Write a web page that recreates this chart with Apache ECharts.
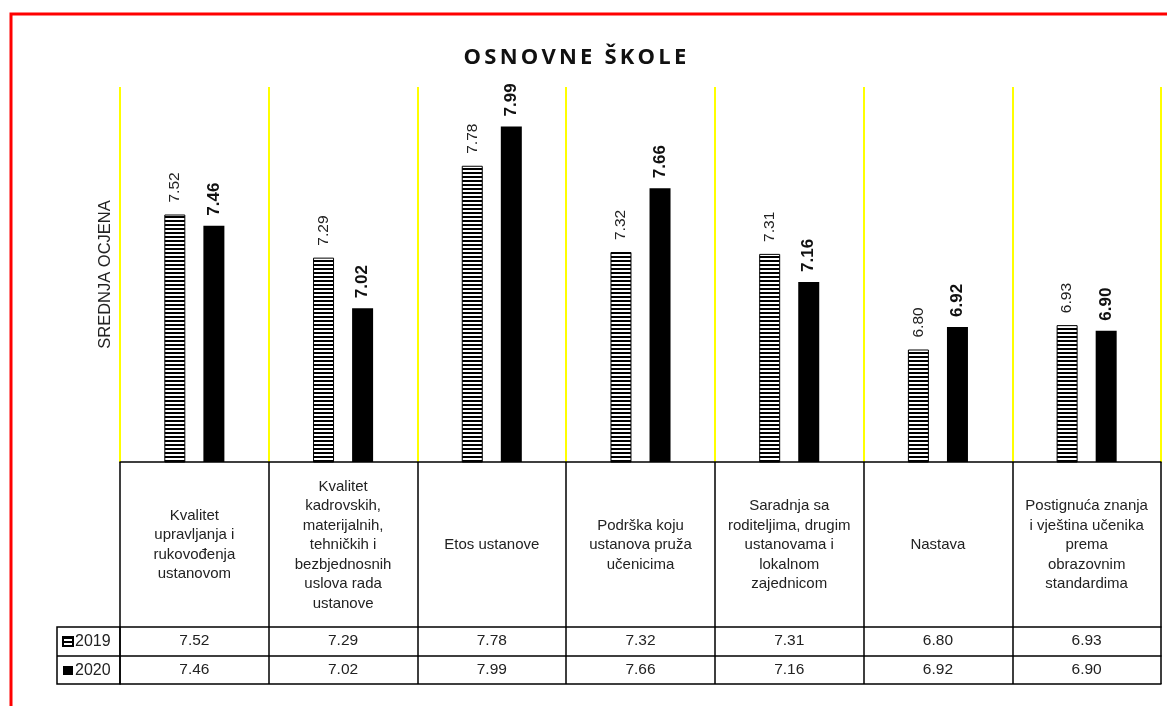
<!DOCTYPE html>
<html>
<head>
<meta charset="utf-8">
<script src="https://cdn.jsdelivr.net/npm/echarts@6/dist/echarts.min.js"></script>
<style>
html,body{margin:0;padding:0;background:#fff;}
#chart{width:1167px;height:706px;}
</style>
</head>
<body>
<div id="chart"></div>
<script>
const categories = [
  "Kvalitet\nupravljanja i\nrukovođenja\nustanovom",
  "Kvalitet\nkadrovskih,\nmaterijalnih,\ntehničkih i\nbezbjednosnih\nuslova rada\nustanove",
  "Etos ustanove",
  "Podrška koju\nustanova pruža\nučenicima",
  "Saradnja sa\nroditeljima, drugim\nustanovama i\nlokalnom\nzajednicom",
  "Nastava",
  "Postignuća znanja\ni vještina učenika\nprema\nobrazovnim\nstandardima"
];
const values2019 = [7.52, 7.29, 7.78, 7.32, 7.31, 6.80, 6.93];
const values2020 = [7.46, 7.02, 7.99, 7.66, 7.16, 6.92, 6.90];
const seriesNames = ["2019", "2020"];
const titleText = "OSNOVNE ŠKOLE";
const yAxisName = "SREDNJA OCJENA";
const yMin = 6.2, yMax = 8.2;

// layout constants
const G = {left:120, right:6, top:87, bottom:244};
const headerH = 165, rowH = 29;
const FONT = "'Liberation Sans', Arial, sans-serif";

const pc = document.createElement('canvas');
pc.width = 4; pc.height = 4;
const pctx = pc.getContext('2d');
pctx.fillStyle = '#fff'; pctx.fillRect(0,0,4,4);
pctx.fillStyle = '#000'; pctx.fillRect(0,0,4,2);

const chart = echarts.init(document.getElementById('chart'), null, {renderer:'canvas'});
const fmt = v => v.toFixed(2);
const tableTop = 706 - G.bottom;

// title letters spaced via rich-text tokens (text stays the same characters)
const titleRich = Array.from(titleText).map(ch => '{l|' + ch + '}').join('');

function valueAxis(data, offset, tickLen) {
  return {
    type:'category', gridIndex:0, position:'bottom', offset:offset,
    data:data.map(fmt), boundaryGap:true,
    axisLine:{show:true, lineStyle:{color:'#000', width:1.5}},
    axisTick:{show:true, interval:0, length:tickLen, lineStyle:{color:'#000', width:1.5}},
    axisLabel:{interval:0, margin:14, verticalAlign:'middle', fontSize:15.5, color:'#222', fontFamily:FONT},
    splitLine:{show:false}
  };
}

chart.setOption({
  animation:false,
  title:{text:titleRich, left:462, top:47, padding:0,
    textStyle:{
      rich:{l:{fontSize:22, fontWeight:'bold', fontFamily:"'Open Sans', sans-serif", color:'#111', padding:[0,1.6]}}
    }},
  legend:{
    orient:'vertical', left:62, top:633, padding:0, itemGap:12,
    itemWidth:10, itemHeight:9, icon:'rect',
    textStyle:{fontSize:16, lineHeight:17, color:'#222', fontFamily:FONT, padding:[0,0,0,-3]},
    data:seriesNames
  },
  grid:{left:G.left, right:G.right, top:G.top, bottom:G.bottom, containLabel:false},
  xAxis:[
    {
      type:'category', data:categories, boundaryGap:true,
      axisLine:{show:true, lineStyle:{color:'#000', width:1.5}},
      axisTick:{show:true, interval:0, length:headerH, lineStyle:{color:'#000', width:1.5}},
      splitLine:{show:true, interval:0, lineStyle:{color:'#ffff00', width:2}},
      axisLabel:{interval:0, margin:83, verticalAlign:'middle', align:'center', fontSize:15, lineHeight:19.5, color:'#222', fontFamily:FONT}
    },
    valueAxis(values2019, headerH, rowH),
    valueAxis(values2020, headerH + rowH, rowH - 1),
    {
      type:'category', gridIndex:0, position:'bottom', offset:headerH + 2*rowH - 1,
      data:categories, axisLine:{show:true, lineStyle:{color:'#000', width:1.5}},
      axisTick:{show:false}, axisLabel:{show:false}, splitLine:{show:false}
    }
  ],
  yAxis:{
    type:'value', min:yMin, max:yMax,
    axisLine:{show:false}, axisTick:{show:false}, axisLabel:{show:false}, splitLine:{show:false},
    name:yAxisName, nameLocation:'middle', nameGap:6, nameRotate:90,
    nameTextStyle:{fontSize:16.5, color:'#222', fontFamily:FONT}
  },
  series:[
    {
      name:seriesNames[0], type:'bar', data:values2019, barWidth:21, barGap:'86%',
      itemStyle:{color:{image:pc, repeat:'repeat'}, borderColor:'#000', borderWidth:1},
      label:{show:true, position:'top', rotate:90, align:'left', verticalAlign:'middle', distance:12,
        fontSize:15.5, color:'#222', fontFamily:FONT, formatter:p => fmt(p.value)}
    },
    {
      name:seriesNames[1], type:'bar', data:values2020, barWidth:21,
      itemStyle:{color:'#000'},
      label:{show:true, position:'top', rotate:90, align:'left', verticalAlign:'middle', distance:10,
        fontSize:17, fontWeight:'bold', color:'#111', fontFamily:FONT, formatter:p => fmt(p.value)}
    }
  ],
  graphic:[
    {type:'rect', silent:true, shape:{x:11, y:14, width:1300, height:900},
      style:{fill:'none', stroke:'#ff0000', lineWidth:3}},
    {type:'rect', silent:true, shape:{x:57, y:tableTop + headerH, width:G.left - 57, height:2*rowH - 1},
      style:{fill:'none', stroke:'#000', lineWidth:1.5}},
    {type:'line', silent:true, shape:{x1:57, y1:tableTop + headerH + rowH, x2:G.left, y2:tableTop + headerH + rowH},
      style:{stroke:'#000', lineWidth:1.5}}
  ]
});
</script>
</body>
</html>
